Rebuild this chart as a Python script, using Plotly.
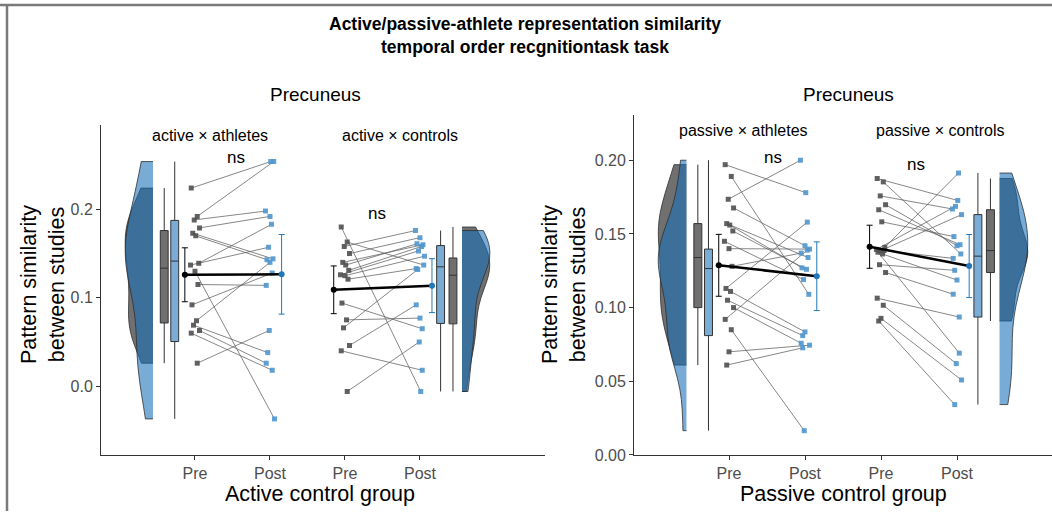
import numpy as np
import plotly.graph_objects as go

# ---------------- data ----------------
categories = ["Pre", "Post", "Pre", "Post"]

# paired subjects: index j in pre matches index j in post
active_ath_pre = [0.224, 0.192, 0.188, 0.179, 0.173, 0.170, 0.139, 0.137, 0.130, 0.115, 0.092, 0.074, 0.069, 0.063, 0.060, 0.026]
active_ath_post = [0.254, 0.254, 0.198, 0.192, 0.144, 0.143, 0.183, 0.157, -0.037, 0.114, 0.128, 0.140, 0.038, 0.026, 0.018, 0.063]

active_ctl_pre = [0.180, 0.163, 0.158, 0.150, 0.140, 0.137, 0.131, 0.126, 0.125, 0.121, 0.094, 0.075, 0.066, 0.046, 0.040, -0.006]
active_ctl_post = [-0.006, 0.137, 0.176, 0.168, 0.160, 0.161, 0.158, 0.153, 0.147, 0.133, 0.065, 0.077, 0.132, 0.092, 0.018, 0.050]

passive_ath_pre = [0.197, 0.189, 0.1735, 0.1676, 0.157, 0.156, 0.152, 0.145, 0.140, 0.128, 0.113, 0.111, 0.105, 0.100, 0.092, 0.085, 0.070, 0.061]
passive_ath_post = [0.178, 0.109, 0.200, 0.142, 0.134, 0.127, 0.126, 0.119, 0.1397, 0.137, 0.158, 0.0835, 0.081, 0.0758, 0.139, 0.0165, 0.0745, 0.0727]

passive_ctl_pre = [0.1876, 0.1853, 0.1758, 0.1698, 0.1664, 0.1582, 0.1409, 0.1395, 0.1387, 0.1387, 0.1376, 0.1364, 0.1291, 0.1238, 0.1064, 0.1016, 0.0927, 0.0909]
passive_ctl_post = [0.1727, 0.1364, 0.1669, 0.142, 0.1427, 0.1482, 0.1913, 0.1687, 0.1631, 0.1334, 0.0691, 0.1187, 0.1253, 0.1091, 0.0936, 0.062, 0.0509, 0.0342]

# group means and 95% CI half-widths [pre, post]
active_ath_mean = [0.1260, 0.1265]
active_ath_ci = [0.0305, 0.0450]
active_ctl_mean = [0.1090, 0.1137]
active_ctl_ci = [0.0270, 0.0305]
passive_ath_mean = [0.1287, 0.1213]
passive_ath_ci = [0.0210, 0.0233]
passive_ctl_mean = [0.1413, 0.1282]
passive_ctl_ci = [0.0146, 0.0214]

group_labels = ["active × athletes", "active × controls", "passive × athletes", "passive × controls"]
panel_titles = ["Precuneus", "Precuneus"]
x_titles = ["Active control group", "Passive control group"]
y_title = "Pattern similarity<br>between studies"
main_title = "<b>Active/passive-athlete representation similarity<br>temporal order recgnitiontask task</b>"

# ---------------- styling ----------------
W, H = 1052, 520
FONT = "Liberation Sans, Arial, Helvetica, sans-serif"
GRAY_VIOLIN = "rgb(112,112,112)"
BLUE_VIOLIN = "rgba(22,112,184,0.58)"
GRAY_BOX = "rgb(112,112,112)"
BLUE_BOX = "rgb(122,172,214)"
PRE_PT = "rgba(80,80,80,0.9)"
POST_PT = "rgba(80,150,205,0.9)"
LINK = "rgba(95,95,95,0.75)"
POST_MEAN = "rgb(35,120,185)"


def px(x):
    return x / W


def py(y):
    return 1 - y / H


def bw(v):
    v = np.asarray(v, dtype=float)
    sd = v.std(ddof=1)
    q75, q25 = np.percentile(v, [75, 25])
    return 0.9 * min(sd, (q75 - q25) / 1.34) * len(v) ** -0.2


JIT = [-0.05, 0.03, -0.01, 0.06, -0.03, 0.01, 0.05, -0.06, 0.0, 0.04, -0.04, 0.02, -0.02, 0.06, -0.05, 0.03, 0.0, -0.03]

fig = go.Figure()


def add_group(xa, ya, pre, post, mean, ci, x_pre, x_post, left):
    n = len(pre)
    if left:
        v_pos, side, gbox, bbox, m_pre, m_post = 0.44, "negative", 0.59, 0.73, 0.865, 2.155
    else:
        v_pos, side, gbox, bbox, m_pre, m_post = 4.56, "positive", 4.44, 4.275, 2.85, 4.16
    common = dict(xaxis=xa, yaxis=ya, showlegend=False, hoverinfo="skip")
    # half violins
    for vals, fc in ((pre, GRAY_VIOLIN), (post, BLUE_VIOLIN)):
        fig.add_trace(go.Violin(x=[v_pos] * len(vals), y=vals, side=side, width=0.74,
                                scalemode="width", spanmode="hard", bandwidth=bw(vals),
                                fillcolor=fc, line=dict(color="#2e2e2e", width=0.8),
                                points=False, box_visible=False, meanline_visible=False,
                                **common))
    # boxes
    for vals, pos, fc in ((pre, gbox, GRAY_BOX), (post, bbox, BLUE_BOX)):
        fig.add_trace(go.Box(x=[pos] * len(vals), y=vals, width=0.105, fillcolor=fc,
                             line=dict(color="#333333", width=1), whiskerwidth=0,
                             boxpoints=False, quartilemethod="linear", **common))
    # subject links
    xs_pre = [x_pre + JIT[i] for i in range(n)]
    xs_post = [x_post + JIT[(i + 5) % len(JIT)] for i in range(n)]
    lx, ly = [], []
    for i in range(n):
        lx += [xs_pre[i], xs_post[i], None]
        ly += [pre[i], post[i], None]
    fig.add_trace(go.Scatter(x=lx, y=ly, mode="lines", line=dict(color=LINK, width=1), **common))
    fig.add_trace(go.Scatter(x=xs_pre, y=pre, mode="markers",
                             marker=dict(symbol="square", size=5, color=PRE_PT), **common))
    fig.add_trace(go.Scatter(x=xs_post, y=post, mode="markers",
                             marker=dict(symbol="square", size=5, color=POST_PT), **common))
    # mean line + CI
    fig.add_trace(go.Scatter(x=[m_pre, m_post], y=mean, mode="lines",
                             line=dict(color="black", width=2.5), **common))
    fig.add_trace(go.Scatter(x=[m_pre], y=[mean[0]], mode="markers",
                             marker=dict(size=6, color="black"),
                             error_y=dict(type="data", array=[ci[0]], color="black", thickness=1, width=3),
                             **common))
    fig.add_trace(go.Scatter(x=[m_post], y=[mean[1]], mode="markers",
                             marker=dict(size=6, color=POST_MEAN),
                             error_y=dict(type="data", array=[ci[1]], color=POST_MEAN, thickness=1, width=3),
                             **common))


add_group("x", "y", active_ath_pre, active_ath_post, active_ath_mean, active_ath_ci, 1, 2, True)
add_group("x", "y", active_ctl_pre, active_ctl_post, active_ctl_mean, active_ctl_ci, 3, 4, False)
add_group("x2", "y2", passive_ath_pre, passive_ath_post, passive_ath_mean, passive_ath_ci, 1, 2, True)
add_group("x2", "y2", passive_ctl_pre, passive_ctl_post, passive_ctl_mean, passive_ctl_ci, 3, 4, False)

axis_common = dict(showline=True, linecolor="#333333", linewidth=1, ticks="outside", ticklen=4,
                   tickcolor="#333333", tickfont=dict(size=16, color="#4d4d4d", family=FONT),
                   showgrid=False, zeroline=False)

fig.update_layout(
    width=W, height=H, margin=dict(l=0, r=0, t=0, b=0),
    paper_bgcolor="white", plot_bgcolor="white",
    font=dict(family=FONT, color="black"),
    violinmode="overlay", boxmode="overlay", showlegend=False,
    xaxis=dict(domain=[px(101), px(545)], range=[-0.253, 5.667], anchor="y",
               tickvals=[1, 2, 3, 4], ticktext=categories, **axis_common),
    yaxis=dict(domain=[py(463), py(127)], range=[-0.0778, 0.2956], anchor="x",
               tickvals=[0, 0.1, 0.2], tickformat=".1f", **axis_common),
    xaxis2=dict(domain=[px(634), 1.0], range=[-0.25, 5.25], anchor="y2",
                tickvals=[1, 2, 3, 4], ticktext=categories, **axis_common),
    yaxis2=dict(domain=[py(463), py(117)], range=[0, 0.2307], anchor="x2",
                tickvals=[0, 0.05, 0.1, 0.15, 0.2], tickformat=".2f", **axis_common),
)

ann = []


def text(x, y, s, size, **kw):
    ann.append(dict(x=px(x), y=py(y), xref="paper", yref="paper", text=s, showarrow=False,
                    xanchor="center", yanchor="middle",
                    font=dict(size=size, family=FONT, color="black"), **kw))


text(525, 36, main_title, 17.5)
text(315, 96, panel_titles[0], 19)
text(848, 96, panel_titles[1], 19)
text(210, 138, group_labels[0], 16)
text(400, 138, group_labels[1], 16)
text(743, 133, group_labels[2], 16)
text(940, 133, group_labels[3], 16)
text(236, 160, "ns", 17)
text(377, 217, "ns", 17)
text(773, 160, "ns", 17)
text(916, 167, "ns", 17)
text(320, 503, x_titles[0], 21.5)
text(843, 503, x_titles[1], 21.5)
text(43, 290, y_title, 21.5, textangle=-90)
text(564, 290, y_title, 21.5, textangle=-90)
fig.update_layout(annotations=ann)

# figure border (top and left)
fig.add_shape(type="line", xref="paper", yref="paper", x0=0, x1=1, y0=py(5), y1=py(5),
              line=dict(color="#7a7a7a", width=2.5))
fig.add_shape(type="line", xref="paper", yref="paper", x0=px(7), x1=px(7), y0=0, y1=py(5),
              line=dict(color="#7a7a7a", width=2.5))

fig.write_html("out.html")
